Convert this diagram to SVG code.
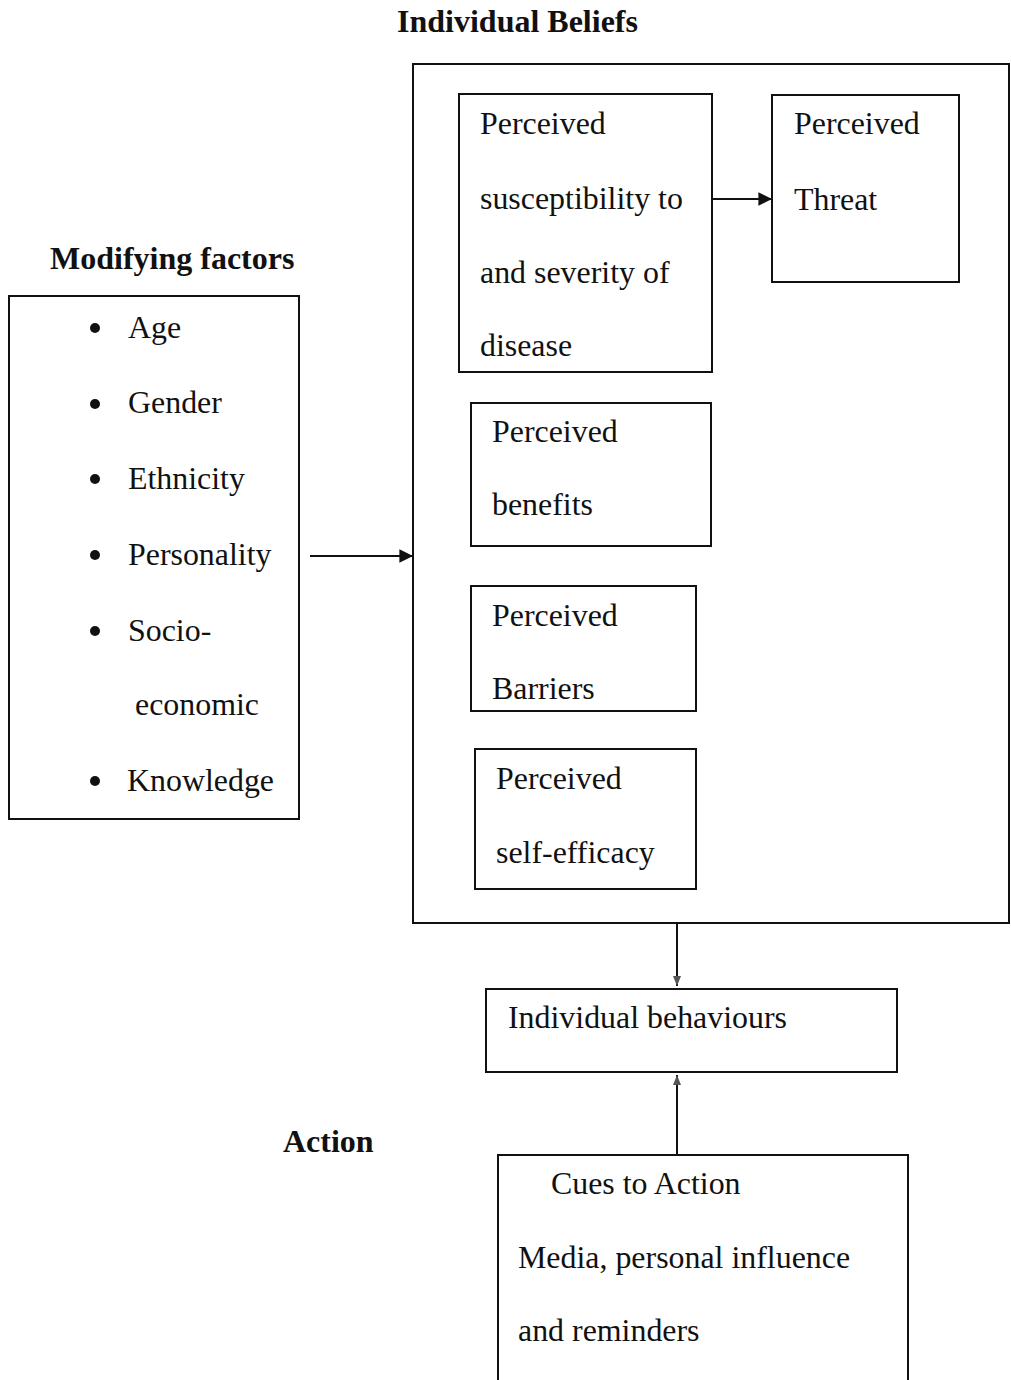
<svg xmlns="http://www.w3.org/2000/svg" width="1011" height="1380" viewBox="0 0 1011 1380">
<style>
text{font-family:"Liberation Serif","Times New Roman",serif;font-size:31.9px;fill:#111}
.b{font-weight:bold;font-size:32px}
.box{fill:none;stroke:#111;stroke-width:2}
.c{stroke:#111;stroke-width:2;fill:none}
</style>
<defs>
<marker id="ah" viewBox="0 0 10 10" refX="10" refY="5" markerWidth="8" markerHeight="8" markerUnits="userSpaceOnUse" orient="auto" style="overflow:visible">
<path d="M0,0 L10,5 L0,10 z" fill="#111" transform="scale(1.7)" transform-origin="10 5"/>
</marker>
<marker id="sm" viewBox="0 0 10 10" refX="10" refY="5" markerWidth="10" markerHeight="10" markerUnits="userSpaceOnUse" orient="auto">
<path d="M0,1 L10,5 L0,9 z" fill="#555"/>
</marker>
</defs>
<rect width="1011" height="1380" fill="#fff"/>
<text class="b" x="397" y="32">Individual Beliefs</text>
<text class="b" x="50" y="269">Modifying factors</text>
<text class="b" x="283" y="1152">Action</text>

<g id="beliefs"><rect class="box" x="413" y="64" width="596" height="859"/></g>
<g id="susceptibility"><rect class="box" x="459" y="94" width="253" height="278"/>
<text x="480" y="134">Perceived</text><text x="480" y="209">susceptibility to</text><text x="480" y="283">and severity of</text><text x="480" y="356">disease</text></g>
<g id="threat"><rect class="box" x="772" y="95" width="187" height="187"/>
<text x="794" y="134">Perceived</text><text x="794" y="210">Threat</text></g>
<g id="benefits"><rect class="box" x="471" y="403" width="240" height="143"/>
<text x="492" y="442">Perceived</text><text x="492" y="515">benefits</text></g>
<g id="barriers"><rect class="box" x="471" y="586" width="225" height="125"/>
<text x="492" y="626">Perceived</text><text x="492" y="699">Barriers</text></g>
<g id="efficacy"><rect class="box" x="475" y="749" width="221" height="140"/>
<text x="496" y="789">Perceived</text><text x="496" y="863">self-efficacy</text></g>
<g id="modifying"><rect class="box" x="9" y="296" width="290" height="523"/>
<g fill="#111"><circle cx="95" cy="328" r="5"/><circle cx="95" cy="404" r="5"/><circle cx="95" cy="479" r="5"/><circle cx="95" cy="555" r="5"/><circle cx="95" cy="631" r="5"/><circle cx="95" cy="781" r="5"/></g>
<text x="128" y="338">Age</text><text x="128" y="413">Gender</text><text x="128" y="489">Ethnicity</text><text x="128" y="565">Personality</text><text x="128" y="641">Socio-</text><text x="135" y="715">economic</text><text x="127" y="791">Knowledge</text></g>
<g id="behaviours"><rect class="box" x="486" y="989" width="411" height="83"/>
<text x="508" y="1028">Individual behaviours</text></g>
<g id="cues"><rect class="box" x="498" y="1155" width="410" height="240"/>
<text x="551" y="1194">Cues to Action</text><text x="518" y="1268">Media, personal influence</text><text x="518" y="1341">and reminders</text></g>

<g id="connectors">
<line class="c" x1="712" y1="199" x2="772" y2="199" marker-end="url(#ah)"/>
<line class="c" x1="310" y1="556" x2="413" y2="556" marker-end="url(#ah)"/>
<line class="c" x1="677" y1="923" x2="677" y2="986" marker-end="url(#sm)"/>
<line class="c" x1="677" y1="1155" x2="677" y2="1075" marker-end="url(#sm)"/>
</g>
</svg>
